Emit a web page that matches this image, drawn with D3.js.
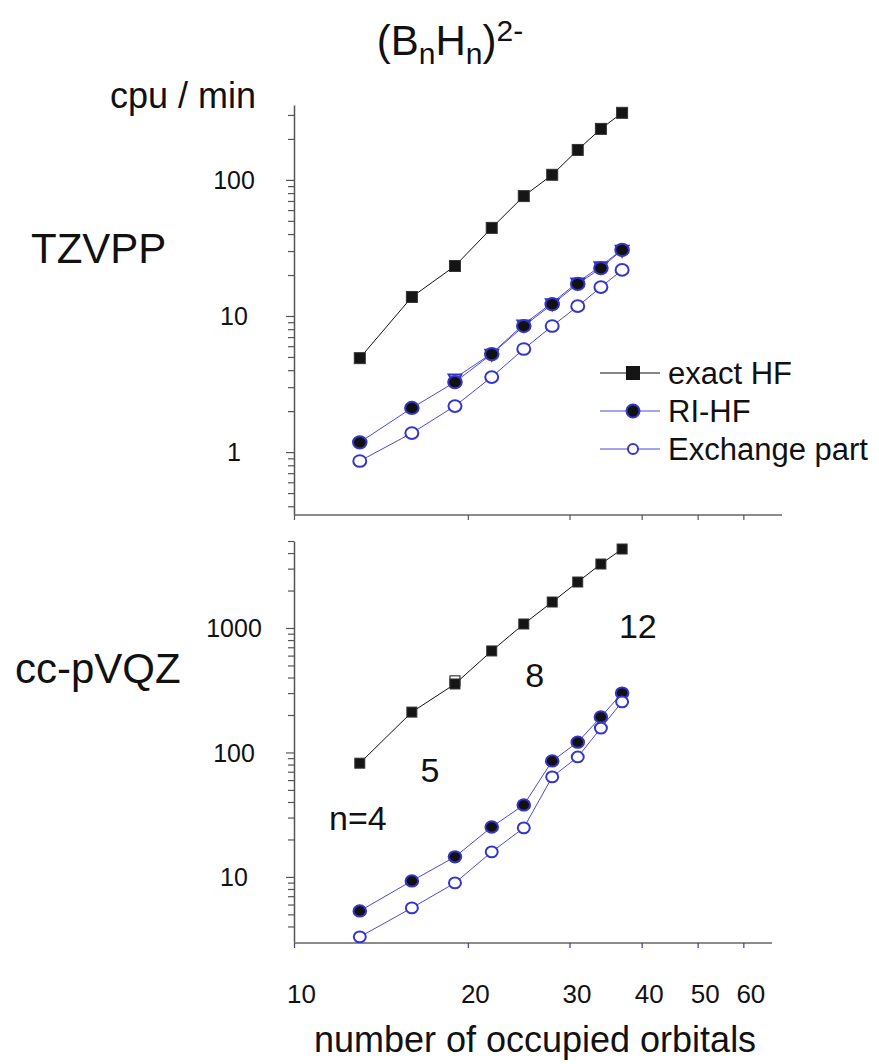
<!DOCTYPE html>
<html>
<head>
<meta charset="utf-8">
<script src="https://d3js.org/d3.v7.min.js"></script>
<style>
  body { margin: 0; background: #fff; }
  svg text { font-family: "Liberation Sans", Arial, sans-serif; fill: #111; }
</style>
</head>
<body>
<div id="chart"></div>
<script>
// number of occupied orbitals for (BnHn)2-, n = 4 .. 12
var orbitals = [13, 16, 19, 22, 25, 28, 31, 34, 37];

// TZVPP timings (cpu / min)
var tzExactHF  = [4.9, 13.8, 23.3, 44.4, 76, 109, 166, 237, 311];
var tzRIHF     = [1.18, 2.11, 3.27, 5.25, 8.44, 12.2, 17.2, 22.5, 30.6];
var tzRIHFb    = [null, null, 3.5, 5.3, 8.7, 12.5, 17.7, 23.3, 30.8];
var tzExchange = [0.86, 1.38, 2.18, 3.56, 5.72, 8.44, 11.8, 16.3, 21.8];

// cc-pVQZ timings (cpu / min)
var qzExactHF  = [82, 211, 355, 654, 1077, 1617, 2341, 3266, 4311];
var qzExactHFb = [null, null, 376, null, null, null, null, null, null];
var qzRIHF     = [5.33, 9.29, 14.5, 25.2, 37.9, 85.5, 121, 193, 300];
var qzExchange = [3.3, 5.64, 8.95, 15.9, 24.8, 63.6, 92, 157, 255];

var xTicks = [10, 20, 30, 40, 50, 60];
var tzMajor = [1, 10, 100];
var qzMajor = [10, 100, 1000];

var legendNames = ["exact HF", "RI-HF", "Exchange part"];

// n labels in the lower panel, placed in data units
var nLabels = [
  { text: "n=4", orb: 12.9, cpu: 23.8 },
  { text: "5",   orb: 17.2, cpu: 58 },
  { text: "8",   orb: 26.1, cpu: 336 },
  { text: "12",  orb: 39.4, cpu: 832 }
];

var blue = "#3535cc";
var lineBlue = "#4a4ad8";

var svg = d3.select("#chart")
  .append("svg")
  .attr("width", 879)
  .attr("height", 1064);

// shared x scale (log)
var x = d3.scaleLog().domain([10, 70]).range([294, 782]);

var yTop = d3.scaleLog().domain([0.345, 355]).range([515, 105]);
var yBot = d3.scaleLog().domain([3, 5000]).range([942, 541]);

function minorTicks(lo, hi) {
  var out = [];
  for (var p = -2; p < 5; p++) {
    for (var m = 2; m < 10; m++) {
      var v = m * Math.pow(10, p);
      if (v >= lo && v <= hi) out.push(v);
    }
  }
  return out;
}

function drawYAxis(y, majors, lo, hi) {
  svg.append("g")
    .attr("transform", "translate(294,0)")
    .call(d3.axisLeft(y).tickValues(minorTicks(lo, hi)).tickSize(6).tickFormat(""))
    .call(g => g.select(".domain").remove())
    .selectAll("line").attr("stroke", "#555").attr("stroke-width", 1.2);

  var g = svg.append("g")
    .attr("transform", "translate(294,0)")
    .call(d3.axisLeft(y).tickValues(majors).tickSize(8).tickSizeOuter(0).tickFormat(d3.format("d")));
  g.select(".domain").attr("stroke", "#555").attr("stroke-width", 1.5);
  g.selectAll("line").attr("stroke", "#555").attr("stroke-width", 1.2);
  g.selectAll("text")
    .attr("x", -60)
    .attr("dy", "0.35em")
    .attr("text-anchor", "middle")
    .style("font-size", "25px")
    .style("font-family", "Liberation Sans, Arial, sans-serif")
    .attr("fill", "#111");
}

function drawXAxis(yPos, xEnd, tickColor, labels) {
  svg.append("line")
    .attr("x1", 294).attr("x2", xEnd)
    .attr("y1", yPos).attr("y2", yPos)
    .attr("stroke", "#666").attr("stroke-width", 1.5);
  var g = svg.append("g")
    .attr("transform", "translate(0," + yPos + ")")
    .call(d3.axisBottom(x).tickValues(xTicks).tickSize(5).tickFormat(labels ? d3.format("d") : ""));
  g.select(".domain").remove();
  g.selectAll("line").attr("stroke", tickColor).attr("stroke-width", 1.2);
  if (labels) {
    g.selectAll("text")
      .attr("y", 60)
      .attr("dx", 7)
      .attr("dy", 0)
      .style("font-size", "26px")
      .style("font-family", "Liberation Sans, Arial, sans-serif")
      .attr("fill", "#111");
  }
}

drawYAxis(yTop, tzMajor, 0.4, 300);
drawXAxis(515, 782, "#555", false);
drawYAxis(yBot, qzMajor, 4, 5000);
drawXAxis(943, 772, blue, true);

function pts(vals) {
  return orbitals.map((o, i) => ({ o: o, v: vals[i] })).filter(d => d.v != null);
}

function drawLine(y, vals, color) {
  var line = d3.line().x(d => x(d.o)).y(d => y(d.v));
  svg.append("path")
    .datum(pts(vals))
    .attr("d", line)
    .attr("fill", "none")
    .attr("stroke", color)
    .attr("stroke-width", 1);
}

function drawSquares(y, vals, size, fill) {
  svg.append("g").selectAll("rect")
    .data(pts(vals))
    .enter()
    .append("rect")
    .attr("x", d => x(d.o) - size / 2)
    .attr("y", d => y(d.v) - size / 2)
    .attr("width", size)
    .attr("height", size)
    .attr("fill", fill)
    .attr("stroke", fill == "#fff" ? "#111" : "#333")
    .attr("stroke-width", 1);
}

function drawCircles(y, vals, r, fill) {
  svg.append("g").selectAll("ellipse")
    .data(pts(vals))
    .enter()
    .append("ellipse")
    .attr("cx", d => x(d.o))
    .attr("cy", d => y(d.v))
    .attr("rx", r)
    .attr("ry", r * 0.9)
    .attr("fill", fill)
    .attr("stroke", blue)
    .attr("stroke-width", 2);
}

function drawTriangles(y, vals) {
  svg.append("g").selectAll("path")
    .data(pts(vals))
    .enter()
    .append("path")
    .attr("d", d3.symbol().type(d3.symbolTriangle).size(70))
    .attr("transform", d => "translate(" + x(d.o) + "," + y(d.v) + ") rotate(180)")
    .attr("fill", "#fff")
    .attr("stroke", blue)
    .attr("stroke-width", 2);
}

// upper panel: TZVPP
drawLine(yTop, tzExactHF, "#111");
drawLine(yTop, tzRIHFb, lineBlue);
drawLine(yTop, tzRIHF, lineBlue);
drawLine(yTop, tzExchange, lineBlue);
drawTriangles(yTop, tzRIHFb);
drawSquares(yTop, tzExactHF, 11, "#151515");
drawCircles(yTop, tzRIHF, 6.8, "#111");
drawCircles(yTop, tzExchange, 6.5, "#fff");

// lower panel: cc-pVQZ
drawLine(yBot, qzExactHF, "#111");
drawLine(yBot, qzRIHF, lineBlue);
drawLine(yBot, qzExchange, lineBlue);
drawSquares(yBot, qzExactHFb, 10, "#fff");
drawSquares(yBot, qzExactHF, 10, "#151515");
drawCircles(yBot, qzRIHF, 6.3, "#111");
drawCircles(yBot, qzExchange, 6, "#fff");

// legend
var legY = [373, 411, 449];
var leg = svg.append("g");
legendNames.forEach((name, i) => {
  leg.append("line")
    .attr("x1", 600).attr("x2", 660)
    .attr("y1", legY[i]).attr("y2", legY[i])
    .attr("stroke", i == 0 ? "#111" : lineBlue)
    .attr("stroke-width", 1.2);
  if (i == 0) {
    leg.append("rect")
      .attr("x", 633 - 7).attr("y", legY[i] - 7)
      .attr("width", 14).attr("height", 14)
      .attr("fill", "#151515");
  } else {
    leg.append("ellipse")
      .attr("cx", 633).attr("cy", legY[i])
      .attr("rx", i == 1 ? 6.5 : 5).attr("ry", i == 1 ? 6.5 : 5)
      .attr("fill", i == 1 ? "#111" : "#fff")
      .attr("stroke", blue).attr("stroke-width", 2);
  }
  leg.append("text")
    .attr("x", 668)
    .attr("y", legY[i] + 11)
    .style("font-size", "31px")
    .text(name);
});

// n labels
svg.append("g").selectAll("text")
  .data(nLabels)
  .enter()
  .append("text")
  .attr("x", d => x(d.orb))
  .attr("y", d => yBot(d.cpu))
  .attr("text-anchor", "middle")
  .style("font-size", "34px")
  .text(d => d.text);

// title (BnHn)2-
var title = svg.append("text")
  .attr("x", 450)
  .attr("y", 55)
  .attr("text-anchor", "middle")
  .style("font-size", "42px");
title.append("tspan").text("(B");
title.append("tspan").attr("dy", 9).style("font-size", "30px").text("n");
title.append("tspan").attr("dy", -9).text("H");
title.append("tspan").attr("dy", 9).style("font-size", "30px").text("n");
title.append("tspan").attr("dy", -9).text(")");
title.append("tspan").attr("dy", -14).style("font-size", "30px").text("2-");

svg.append("text")
  .attr("x", 110).attr("y", 108)
  .style("font-size", "36px")
  .text("cpu / min");

svg.append("text")
  .attr("x", 31).attr("y", 263)
  .style("font-size", "42px")
  .text("TZVPP");

svg.append("text")
  .attr("x", 15).attr("y", 683)
  .style("font-size", "42px")
  .text("cc-pVQZ");

svg.append("text")
  .attr("x", 535).attr("y", 1052)
  .attr("text-anchor", "middle")
  .style("font-size", "36px")
  .text("number of occupied orbitals");
</script>
</body>
</html>
